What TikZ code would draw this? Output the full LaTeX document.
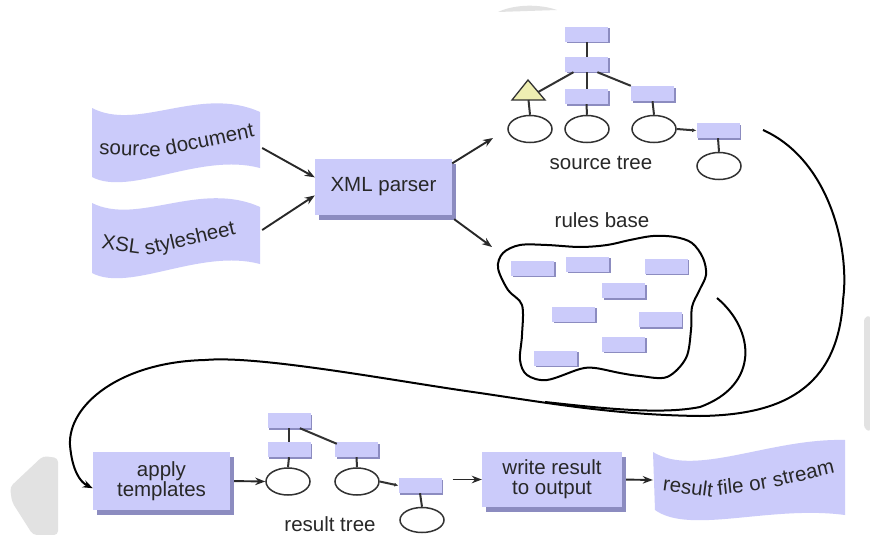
\documentclass[tikz,border=0pt]{standalone}
\usepackage{fontspec}
\setmainfont{Liberation Sans}
\usetikzlibrary{shapes.geometric,shadows,arrows.meta,calc}
\definecolor{lav}{RGB}{203,203,250}
\definecolor{shade}{RGB}{140,140,192}
\definecolor{ink}{RGB}{40,40,40}
\definecolor{edge}{RGB}{50,50,50}
\definecolor{haze}{RGB}{226,226,226}
\definecolor{tri}{RGB}{238,238,178}
\newcommand{\labfont}{\fontsize{20.5}{20}\selectfont}

\tikzset{
  mini/.style={fill=lav, draw=none, minimum width=43pt, minimum height=15pt, inner sep=0pt,
    drop shadow={shadow xshift=1.5pt, shadow yshift=-1.5pt, fill=shade, opacity=1}},
  oval/.style={ellipse, draw=edge, line width=1.5pt, fill=white,
    minimum width=44pt, minimum height=27pt, inner sep=0pt},
  bigbox/.style={fill=lav, draw=none, text=ink, font=\labfont, align=center, inner sep=0pt,
    drop shadow={shadow xshift=4pt, shadow yshift=-5pt, fill=shade, opacity=1}},
  link/.style={draw=edge, line width=2pt},
  arr/.style={draw=ink, line width=1.9pt, -{Stealth[length=10pt,width=7.5pt]}},
  treecap/.style={text=ink, font=\labfont, inner sep=0pt, anchor=base},
  flowline/.style={draw=black, line width=2pt},
  bannerbox/.style={inner sep=0pt, draw=none},
  wordlab/.style={sloped, anchor=base, inner sep=0pt, text=ink, font=\labfont},
}

\begin{document}
\begin{tikzpicture}[x=1pt, y=-1pt]
\useasboundingbox (0,0) rectangle (870,535);
\fill[white] (0,0) rectangle (870,535);

% faint grey patches along the edges
\fill[haze] (498,12) .. controls (515,4) and (540,4) .. (557,10) -- cycle;
\fill[haze, rounded corners=4pt] (58,458) -- (43,456) -- (10,487) -- (12,502) -- (33,535) -- (58,535) -- cycle;
\fill[haze, rounded corners=3pt] (870,315) -- (864,318) -- (864,428) -- (870,432) -- cycle;

% ---- input documents (wavy banners) ----
\fill[lav] (92,108) .. controls (138,132) and (200,85) .. (260,112) -- (260,168)
  .. controls (200,152) and (130,197) .. (92,177) -- cycle;
\node[bannerbox, minimum width=168pt, minimum height=66pt] (srcdoc) at (176,143) {};
\path (93,147) .. controls (125,165) and (190,152) .. (258,135)
  node[wordlab, pos=0.3] (srcw1) {source}
  node[wordlab, pos=0.765] (srcw2) {document};

\fill[lav] (92,203) .. controls (138,226) and (200,180) .. (260,207) -- (260,264)
  .. controls (200,248) and (130,293) .. (92,273) -- cycle;
\node[bannerbox, minimum width=168pt, minimum height=66pt] (xsl) at (176,240) {};
\path (97,244) .. controls (130,263) and (195,246) .. (250,228)
  node[wordlab, pos=0.2] (xslw1) {XSL}
  node[wordlab, pos=0.655] (xslw2) {stylesheet};

% ---- output banner ----
\fill[lav] (653,452) .. controls (695,478) and (770,438) .. (845,440) -- (845,515)
  .. controls (770,505) and (690,535) .. (655,510) -- cycle;
\node[bannerbox, minimum width=192pt, minimum height=62pt] (resfile) at (749,480) {};
\path (658,484) .. controls (690,506) and (760,492) .. (842,471)
  node[wordlab, pos=0.24] (resw1) {result}
  node[wordlab, pos=0.5] (resw2) {file}
  node[wordlab, pos=0.64] (resw3) {or}
  node[wordlab, pos=0.845] (resw4) {stream};

% ---- processing steps ----
\node[bigbox, minimum width=137pt, minimum height=56pt] (xml) at (383.5,187) {XML parser};
\node[bigbox, minimum width=137pt, minimum height=58pt] (apply) at (161.5,481) {apply\\templates};
\node[bigbox, minimum width=140pt, minimum height=55pt] (write) at (552,479.5) {write result\\to output};

% ---- source tree ----
\node[mini] (st1) at (586.5,34.5) {};
\node[mini] (st2) at (586.5,64.5) {};
\node[mini] (st3) at (586.5,96.5) {};
\node[mini] (st4) at (652.5,93.5) {};
\node[mini] (st5) at (718,130.5) {};
\node[oval] (se1) at (530,129) {};
\node[oval] (se2) at (587,129) {};
\node[oval] (se3) at (654,129) {};
\node[oval] (se4) at (719,166) {};
\draw[fill=tri, draw=edge, line width=1.3pt]
  (528,80) coordinate (triTop) -- (545,100) coordinate (triR) -- (512,100) -- cycle;
\coordinate (triB) at (528.5,100);
\draw[link] (st1.south) -- (st2.north);
\draw[link] (st2.south) -- (st3.north);
\draw[link] ($(st2.south west)!0.2!(st2.south east)$) -- ($(triTop)!0.6!(triR)$);
\draw[link] ($(st2.south west)!0.75!(st2.south east)$) -- (st4.north west);
\draw[link] (triB) -- (se1.north);
\draw[link] (st3.south) -- (se2.north);
\draw[link] (st4.south) -- (se3.north);
\draw[link, -{Latex[length=4pt,width=4pt]}] (se3.east) -- (st5.west);
\draw[link] (st5.south) -- (se4.north);
\node[treecap] (stcap) at (601,169) {source tree};

% ---- rules base ----
\node[treecap] (rbcap) at (602,227) {rules base};
\draw[line width=2pt, fill=white] plot[smooth cycle, tension=0.55] coordinates {
  (503,253) (520,245) (547,245) (580,247) (607,245) (630,240) (653,236) (675,237)
  (692,243) (703,258) (706,275) (699,291) (692,307) (691,330) (686,358) (667,377)
  (640,376) (620,373) (595,368) (580,369) (547,380) (527,375) (520,360) (522,335)
  (522,305) (508,290) (498,268)};
\node[mini] (r1) at (532.5,268) {};
\node[mini] (r2) at (587.5,264) {};
\node[mini] (r3) at (666,266) {};
\node[mini] (r4) at (623.5,290.5) {};
\node[mini] (r5) at (573.5,314) {};
\node[mini] (r6) at (660,319.5) {};
\node[mini] (r7) at (623.5,344) {};
\node[mini] (r8) at (555.5,358) {};

% ---- result tree ----
\node[mini] (rt1) at (289,420.5) {};
\node[mini] (rt2) at (289,449.5) {};
\node[mini] (rt3) at (356.5,449.5) {};
\node[mini] (rt4) at (420,485.5) {};
\node[oval] (re1) at (288,481.5) {};
\node[oval] (re2) at (357,481.5) {};
\node[oval, minimum height=25pt] (re3) at (422,520) {};
\draw[link] (rt1.south) -- (rt2.north);
\draw[link] ($(rt1.south west)!0.75!(rt1.south east)$) -- ([xshift=2pt,yshift=-2pt]rt3.north west);
\draw[link] (rt2.south) -- (re1.north);
\draw[link] (rt3.south) -- (re2.north);
\draw[link, -{Latex[length=4pt,width=4pt]}] (re2.east) -- (rt4.west);
\draw[link] (rt4.south) -- (re3.north);
\node[treecap] (rtcap) at (330,531) {result tree};

% ---- flow arrows ----
\coordinate (stin) at (493,138);
\coordinate (rbin) at (492,247);
\draw[arr] ([xshift=2pt,yshift=-5pt]srcdoc.east) -- (xml.172);
\draw[arr] ([xshift=2pt,yshift=10pt]xsl.east) -- (xml.187);
\draw[arr] (xml.19) -- (stin);
\draw[arr] ([xshift=2pt,yshift=-4pt]xml.south east) -- (rbin);
\draw[arr, shorten <=4pt] (apply.east) -- (re1.west);
\draw[arr, shorten <=11pt] (rt4.east |- write.west) -- (write.west);
\draw[arr, shorten <=4pt] (write.east) -- (resfile.west);

% ---- feedback from source tree and rules base into apply templates ----
\coordinate (fbstart) at (763,130);
\coordinate (rbout) at (717,298);
\coordinate (merge) at (545,402);
\draw[flowline, -{Stealth[length=10pt,width=7.5pt]}] (fbstart)
  .. controls (830,160) and (850,250) .. (843,300)
  .. controls (838,390) and (780,415) .. (700,416)
  .. controls (620,415) and (560,405) .. (480,393)
  .. controls (400,382) and (260,355) .. (205,360)
  .. controls (120,362) and (68,405) .. (70,445)
  .. controls (72,470) and (80,482) .. (apply.186);
\draw[flowline] (rbout)
  .. controls (755,330) and (760,385) .. (700,407)
  .. controls (660,415) and (600,408) .. (merge);
\end{tikzpicture}
\end{document}
